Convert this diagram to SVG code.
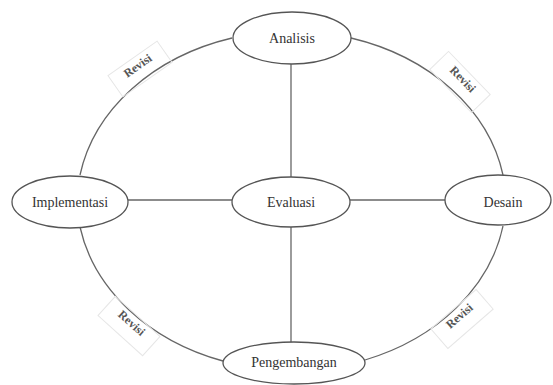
<svg xmlns="http://www.w3.org/2000/svg" width="553" height="385" viewBox="0 0 553 385">
<style>
.n ellipse{fill:#fff;stroke:#555;stroke-width:1.3}
.n text{font-size:14px;fill:#333;text-anchor:middle}
.c path,.c line{fill:none;stroke:#666;stroke-width:1.3}
.lb rect{fill:none;stroke:#e6e6e6;stroke-width:1}
.lb text{font-size:12px;font-weight:bold;fill:#555;text-anchor:middle}
</style>
<rect width="553" height="385" fill="#fff"/>
<g class="c" id="connectors">
<line x1="291" y1="64" x2="291" y2="177"/>
<line x1="291" y1="227" x2="291" y2="343"/>
<line x1="128" y1="200" x2="232" y2="200"/>
<line x1="350" y1="200" x2="445" y2="200"/>
<path d="M232,38 A216,174 0 0 0 80,175"/>
<path d="M351,38 A216,174 0 0 1 503,175"/>
<path d="M80,227 A216,174 0 0 0 223,361"/>
<path d="M503,226 A216,174 0 0 1 365,360"/>
</g>
<g class="lb" id="labels" font-family="'Liberation Serif', 'DejaVu Serif', serif">
<g transform="translate(140,69) rotate(-35)"><rect x="-30" y="-13" width="60" height="26"/><text x="0" y="0">Revisi</text></g>
<g transform="translate(460,82) rotate(46)"><rect x="-30" y="-13" width="60" height="26"/><text x="0" y="0">Revisi</text></g>
<g transform="translate(129,326) rotate(42)"><rect x="-30" y="-13" width="60" height="26"/><text x="0" y="0">Revisi</text></g>
<g transform="translate(462,319) rotate(-41)"><rect x="-30" y="-13" width="60" height="26"/><text x="0" y="0">Revisi</text></g>
</g>
<g class="n" id="analisis" font-family="'Liberation Serif', 'DejaVu Serif', serif"><ellipse cx="292" cy="38" rx="59" ry="26"/><text x="292" y="43">Analisis</text></g>
<g class="n" id="evaluasi" font-family="'Liberation Serif', 'DejaVu Serif', serif"><ellipse cx="291" cy="202" rx="59" ry="25"/><text x="291" y="207">Evaluasi</text></g>
<g class="n" id="implementasi" font-family="'Liberation Serif', 'DejaVu Serif', serif"><ellipse cx="70" cy="202" rx="58" ry="26"/><text x="70" y="207">Implementasi</text></g>
<g class="n" id="desain" font-family="'Liberation Serif', 'DejaVu Serif', serif"><ellipse cx="498" cy="200" rx="53" ry="25"/><text x="503" y="207">Desain</text></g>
<g class="n" id="pengembangan" font-family="'Liberation Serif', 'DejaVu Serif', serif"><ellipse cx="294" cy="363" rx="71" ry="21"/><text x="294" y="367">Pengembangan</text></g>
</svg>
